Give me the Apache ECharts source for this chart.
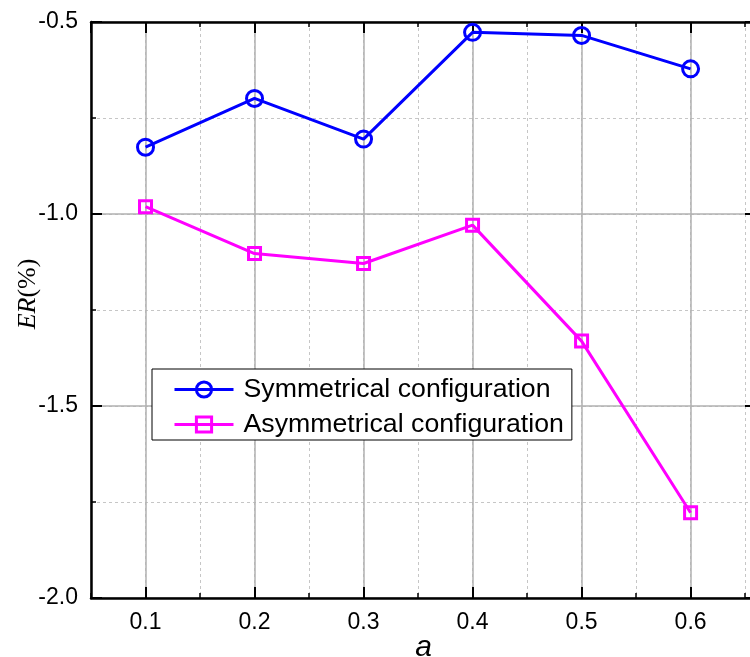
<!DOCTYPE html>
<html>
<head>
<meta charset="utf-8">
<script src="https://cdn.jsdelivr.net/npm/echarts@6/dist/echarts.min.js"></script>
<style>
html,body{margin:0;padding:0;background:#fff;}
#chart{width:750px;height:657px;}
</style>
</head>
<body>
<div id="chart"></div>
<script>
const xValues = [0.1, 0.2, 0.3, 0.4, 0.5, 0.6];
const symmetricalER = [-0.826, -0.699, -0.805, -0.527, -0.535, -0.622];
const asymmetricalER = [-0.981, -1.103, -1.129, -1.029, -1.331, -1.778];
const seriesNames = ['Symmetrical configuration', 'Asymmetrical configuration'];

const X_MIN = 0.05, X_MAX = 0.66, Y_MIN = -2.0, Y_MAX = -0.5;

const chart = echarts.init(document.getElementById('chart'), null, {renderer: 'canvas'});

function xLabel(v) {
  const t = v * 10;
  if (Math.abs(t - Math.round(t)) > 1e-6) return '';
  return v.toFixed(1);
}

const minorSplit = {show: true, lineStyle: {color: '#c6c6c6', width: 1, type: [3, 3]}};
const majorSplit = {show: true, lineStyle: {color: '#b0b0b0', width: 1.5, type: 'solid'}};
const minorTick = {show: true, inside: true, length: 5, lineStyle: {color: '#000', width: 1.5}};
const majorTick = {show: true, inside: true, length: 11, lineStyle: {color: '#000', width: 2}};
const blackLine = {show: true, onZero: false, lineStyle: {color: '#000', width: 2.5}};

function xAx(position, major, extra) {
  return Object.assign({
    type: 'value', position: position, min: X_MIN, max: X_MAX,
    axisLine: major ? blackLine : {show: false},
    axisTick: major ? majorTick : minorTick,
    axisLabel: {show: false},
    splitLine: {show: false}
  }, major ? {} : {interval: 0.05}, extra || {});
}
function yAx(position, major, extra) {
  return Object.assign({
    type: 'value', position: position, min: Y_MIN, max: Y_MAX,
    interval: major ? 0.5 : 0.25,
    axisLine: major ? blackLine : {show: false},
    axisTick: major ? majorTick : minorTick,
    axisLabel: {show: false},
    splitLine: {show: false}
  }, extra || {});
}

const option = {
  animation: false,
  backgroundColor: '#fff',
  grid: {left: 91, top: 22, width: 665, height: 576, containLabel: false, outerBoundsMode: 'none'},
  legend: {
    orient: 'vertical',
    left: 152, top: 369,
    backgroundColor: '#fff',
    borderColor: '#000', borderWidth: 1, borderRadius: 0,
    padding: [7, 8, 2, 21],
    itemWidth: 59, itemHeight: 19, itemGap: 8,
    lineStyle: {width: 3},
    itemStyle: {borderWidth: 3},
    textStyle: {fontFamily: 'Arial, "Liberation Sans", sans-serif', fontSize: 26.7, color: '#000', lineHeight: 27, padding: [0, 0, 0, 5]},
    data: seriesNames
  },
  xAxis: [
    xAx('bottom', false, {splitLine: minorSplit}),
    xAx('bottom', true, {
      splitLine: majorSplit,
      axisLabel: {show: true, formatter: xLabel, margin: 13, color: '#000', fontSize: 23, fontFamily: 'Arial, "Liberation Sans", sans-serif', showMinLabel: false, showMaxLabel: false},
      name: 'a', nameLocation: 'middle', nameGap: 35, nameMoveOverlap: false,
      nameTextStyle: {fontFamily: 'Arial, "Liberation Sans", sans-serif', fontStyle: 'italic', fontSize: 30, color: '#000'}
    }),
    xAx('top', false),
    xAx('top', true)
  ],
  yAxis: [
    yAx('left', false, {splitLine: minorSplit}),
    yAx('left', true, {
      splitLine: majorSplit,
      axisLabel: {show: true, formatter: v => v.toFixed(1), margin: 13, color: '#000', fontSize: 23, fontFamily: 'Arial, "Liberation Sans", sans-serif'},
      name: '{i|ER}{n|(%)}', nameLocation: 'middle', nameGap: 50, nameRotate: 90, nameMoveOverlap: false,
      nameTextStyle: {
        color: '#000',
        padding: [0, 0, 0, 32],
        rich: {
          i: {fontFamily: '"Times New Roman", "Liberation Serif", serif', fontStyle: 'italic', fontSize: 26, color: '#000'},
          n: {fontFamily: '"Times New Roman", "Liberation Serif", serif', fontSize: 26, color: '#000'}
        }
      }
    }),
    yAx('right', false),
    yAx('right', true)
  ],
  series: [
    {
      name: seriesNames[0], type: 'line',
      xAxisIndex: 1, yAxisIndex: 1,
      data: xValues.map((x, i) => [x, symmetricalER[i]]),
      symbol: 'circle', symbolSize: 16,
      lineStyle: {color: '#0000ff', width: 3},
      itemStyle: {color: 'rgba(255,255,255,0)', borderColor: '#0000ff', borderWidth: 3},
      z: 5
    },
    {
      name: seriesNames[1], type: 'line',
      xAxisIndex: 1, yAxisIndex: 1,
      data: xValues.map((x, i) => [x, asymmetricalER[i]]),
      symbol: 'rect', symbolSize: 12,
      lineStyle: {color: '#ff00ff', width: 3},
      itemStyle: {color: 'rgba(255,255,255,0)', borderColor: '#ff00ff', borderWidth: 3},
      z: 5
    }
  ]
};
chart.setOption(option);
</script>
</body>
</html>
